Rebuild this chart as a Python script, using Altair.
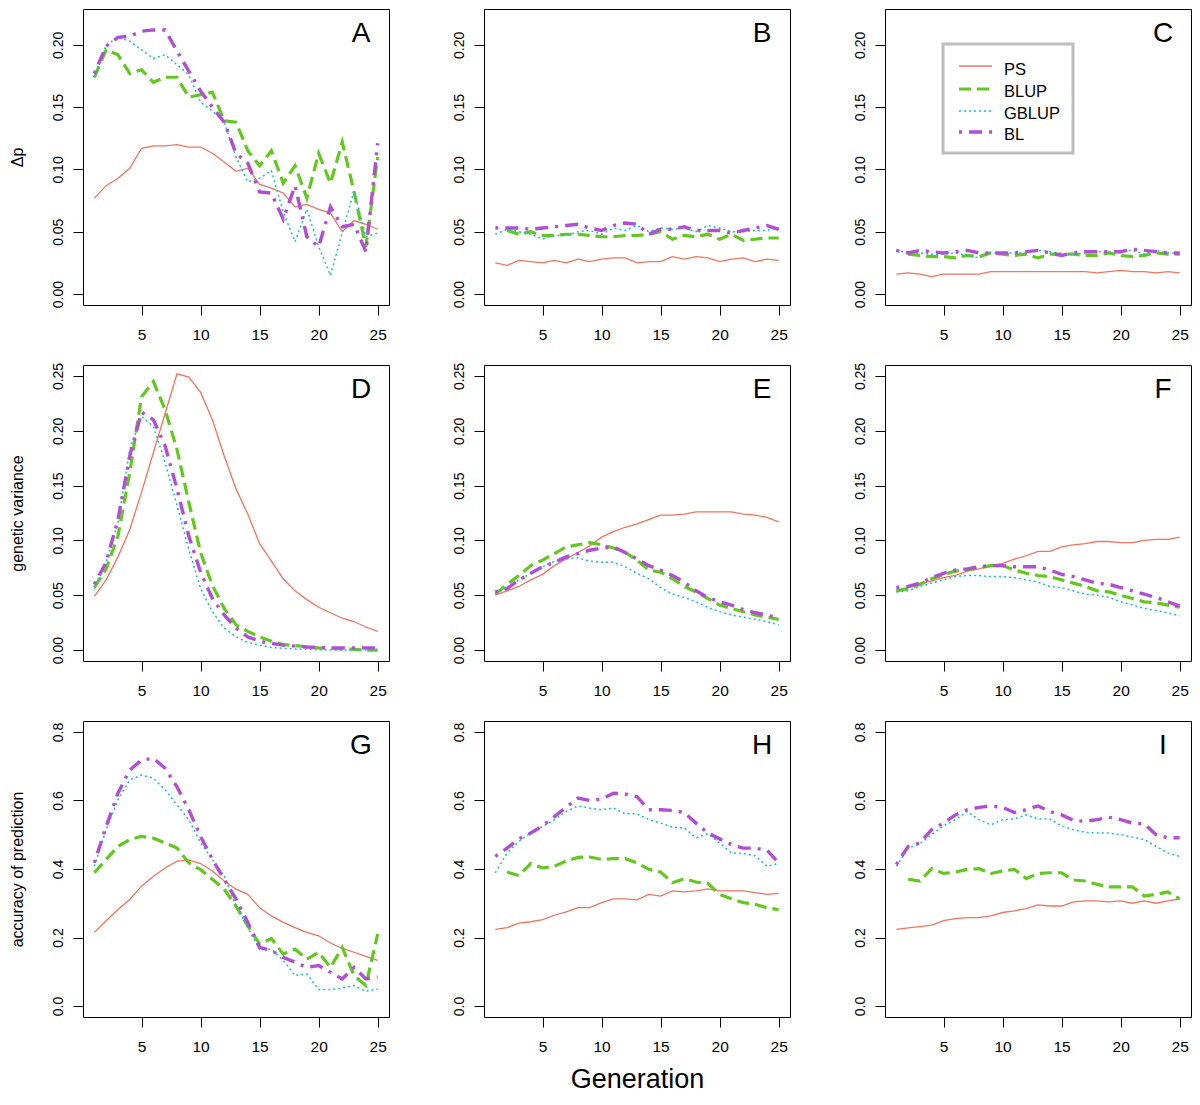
import altair as alt
import pandas as pd

GEN = list(range(1, 26))
SERIES = ["PS", "BLUP", "GBLUP", "BL"]
COLORS = ["#F37461", "#63C81D", "#1BBECC", "#B04FD6"]
DASHES = [None, [12, 6], [2, 3], [3, 7, 13, 7]]
WIDTHS = [1.3, 3.2, 1.5, 3.4]

Y_TITLES = ["Δp", "genetic variance", "accuracy of prediction"]
X_TITLE = "Generation"
X_TICKS = [5, 10, 15, 20, 25]
Y_TICKS = [[0.0, 0.05, 0.10, 0.15, 0.20],
           [0.0, 0.05, 0.10, 0.15, 0.20, 0.25],
           [0.0, 0.2, 0.4, 0.6, 0.8]]
Y_FMT = [".2f", ".2f", ".1f"]
Y_DOMAINS = [[-0.0088, 0.2288], [-0.01, 0.26], [-0.032, 0.832]]
X_DOMAIN = [0.04, 25.96]
LETTERS = ["A", "B", "C", "D", "E", "F", "G", "H", "I"]

# ---- Panel A (delta p)
A_PS = [0.077, 0.087, 0.093, 0.101, 0.117, 0.119, 0.119, 0.120, 0.118, 0.118, 0.113, 0.106, 0.0985,
        0.101, 0.088, 0.085, 0.081, 0.070, 0.072, 0.068, 0.065, 0.050, 0.059, 0.056, 0.052]
A_BLUP = [0.174, 0.196, 0.192, 0.177, 0.180, 0.170, 0.174, 0.174, 0.158, 0.160, 0.162, 0.139, 0.138,
          0.115, 0.103, 0.115, 0.089, 0.103, 0.077, 0.113, 0.089, 0.122, 0.082, 0.038, 0.110]
A_GBLUP = [0.174, 0.200, 0.206, 0.203, 0.196, 0.189, 0.192, 0.184, 0.176, 0.154, 0.147, 0.138, 0.110,
           0.090, 0.093, 0.099, 0.066, 0.042, 0.068, 0.038, 0.015, 0.049, 0.083, 0.046, 0.049]
A_BL = [0.177, 0.199, 0.206, 0.207, 0.211, 0.212, 0.212, 0.195, 0.179, 0.163, 0.150, 0.138, 0.113,
        0.105, 0.082, 0.081, 0.060, 0.087, 0.046, 0.038, 0.070, 0.054, 0.056, 0.034, 0.121]

# ---- Panel B
B_PS = [0.025, 0.023, 0.027, 0.026, 0.025, 0.027, 0.025, 0.028, 0.026, 0.028, 0.029, 0.029, 0.025,
        0.026, 0.026, 0.030, 0.028, 0.030, 0.029, 0.026, 0.028, 0.029, 0.026, 0.028, 0.027]
B_BLUP = [None, 0.051, 0.048, 0.050, 0.047, 0.047, 0.048, 0.048, 0.047, 0.046, 0.046, 0.047, 0.047,
          0.048, 0.050, 0.044, 0.047, 0.046, 0.048, 0.044, 0.048, 0.043, 0.044, 0.045, 0.045]
B_GBLUP = [0.048, 0.052, 0.050, 0.048, 0.044, 0.047, 0.047, 0.050, 0.051, 0.048, 0.053, 0.051, 0.055,
           0.050, 0.053, 0.052, 0.053, 0.050, 0.055, 0.053, 0.050, 0.050, 0.051, 0.051, 0.053]
B_BL = [0.053, 0.053, 0.053, 0.052, 0.053, 0.054, 0.055, 0.056, 0.053, 0.051, 0.055, 0.057, 0.056,
        0.048, 0.052, 0.052, 0.054, 0.051, 0.051, 0.051, 0.049, 0.051, 0.053, 0.055, 0.052]

# ---- Panel C
C_PS = [0.016, 0.017, 0.016, 0.014, 0.016, 0.016, 0.016, 0.016, 0.018, 0.018, 0.018, 0.018, 0.018,
        0.018, 0.018, 0.018, 0.018, 0.017, 0.018, 0.019, 0.018, 0.018, 0.017, 0.018, 0.017]
C_BLUP = [None, 0.032, 0.031, 0.030, 0.030, 0.029, 0.031, 0.030, 0.033, 0.032, 0.031, 0.032, 0.029,
          0.032, 0.032, 0.032, 0.031, 0.031, 0.033, 0.031, 0.030, 0.031, 0.033, 0.032, 0.032]
C_GBLUP = [0.035, 0.033, 0.033, 0.032, 0.032, 0.033, 0.031, 0.029, 0.033, 0.033, 0.033, 0.033, 0.035,
           0.034, 0.032, 0.032, 0.033, 0.034, 0.034, 0.035, 0.035, 0.032, 0.035, 0.033, 0.033]
C_BL = [0.035, 0.033, 0.035, 0.034, 0.033, 0.034, 0.035, 0.033, 0.033, 0.033, 0.033, 0.034, 0.035,
        0.033, 0.031, 0.033, 0.034, 0.034, 0.034, 0.034, 0.036, 0.035, 0.034, 0.033, 0.033]

# ---- Panel D (genetic variance)
D_PS = [0.049, 0.064, 0.085, 0.110, 0.144, 0.180, 0.216, 0.252, 0.249, 0.235, 0.210, 0.177, 0.147,
        0.124, 0.097, 0.081, 0.065, 0.054, 0.046, 0.039, 0.034, 0.029, 0.026, 0.021, 0.017]
D_BLUP = [0.057, 0.074, 0.104, 0.162, 0.231, 0.245, 0.219, 0.183, 0.135, 0.089, 0.059, 0.038, 0.023,
          0.017, 0.012, 0.008, 0.005, 0.004, 0.003, 0.002, 0.0015, 0.001, 0.0006, 0.0, 0.0]
D_GBLUP = [0.056, 0.080, 0.116, 0.183, 0.213, 0.204, 0.171, 0.132, 0.092, 0.056, 0.035, 0.020, 0.012,
           0.007, 0.0045, 0.0024, 0.0015, 0.001, 0.0006, 0.0003, 0.0, 0.0, 0.0, 0.0, 0.0]
D_BL = [0.060, 0.080, 0.119, 0.177, 0.217, 0.210, 0.186, 0.147, 0.104, 0.071, 0.047, 0.032, 0.020,
        0.012, 0.008, 0.006, 0.0045, 0.0036, 0.0027, 0.0024, 0.002, 0.002, 0.002, 0.002, 0.002]

# ---- Panel E
E_PS = [0.050, 0.054, 0.058, 0.064, 0.069, 0.077, 0.083, 0.089, 0.095, 0.103, 0.108, 0.112, 0.115,
        0.119, 0.123, 0.123, 0.124, 0.126, 0.126, 0.126, 0.126, 0.124, 0.123, 0.121, 0.117]
E_BLUP = [0.051, 0.060, 0.068, 0.077, 0.082, 0.088, 0.094, 0.096, 0.098, 0.096, 0.093, 0.089, 0.082,
          0.073, 0.071, 0.065, 0.058, 0.053, 0.047, 0.041, 0.038, 0.035, 0.032, 0.030, 0.028]
E_GBLUP = [0.051, 0.057, 0.064, 0.070, 0.076, 0.081, 0.083, 0.084, 0.081, 0.080, 0.080, 0.076, 0.070,
           0.065, 0.057, 0.051, 0.048, 0.044, 0.039, 0.035, 0.032, 0.030, 0.028, 0.026, 0.023]
E_BL = [0.053, 0.056, 0.064, 0.070, 0.076, 0.080, 0.085, 0.088, 0.091, 0.093, 0.094, 0.089, 0.083,
        0.077, 0.073, 0.068, 0.062, 0.054, 0.048, 0.044, 0.041, 0.037, 0.034, 0.032, 0.029]

# ---- Panel F
F_PS = [0.054, 0.057, 0.060, 0.063, 0.066, 0.068, 0.072, 0.074, 0.077, 0.079, 0.083, 0.086, 0.090,
        0.090, 0.094, 0.096, 0.097, 0.099, 0.099, 0.098, 0.098, 0.100, 0.101, 0.101, 0.103]
F_BLUP = [0.054, 0.056, 0.060, 0.065, 0.069, 0.072, 0.073, 0.075, 0.077, 0.077, 0.073, 0.070, 0.068,
          0.067, 0.064, 0.061, 0.058, 0.054, 0.053, 0.050, 0.047, 0.044, 0.043, 0.041, 0.039]
F_GBLUP = [0.053, 0.054, 0.058, 0.061, 0.064, 0.067, 0.068, 0.068, 0.067, 0.067, 0.066, 0.064, 0.062,
           0.058, 0.057, 0.054, 0.051, 0.050, 0.048, 0.044, 0.041, 0.038, 0.036, 0.034, 0.031]
F_BL = [0.057, 0.058, 0.061, 0.066, 0.070, 0.073, 0.074, 0.076, 0.077, 0.077, 0.076, 0.076, 0.076,
        0.073, 0.069, 0.067, 0.064, 0.061, 0.060, 0.057, 0.054, 0.051, 0.048, 0.044, 0.040]

# ---- Panel G (accuracy of prediction)
G_PS = [0.215, 0.249, 0.282, 0.311, 0.350, 0.379, 0.403, 0.423, 0.426, 0.416, 0.394, 0.365, 0.341,
        0.326, 0.287, 0.263, 0.244, 0.229, 0.215, 0.205, 0.184, 0.168, 0.157, 0.145, 0.133]
G_BLUP = [0.389, 0.428, 0.466, 0.486, 0.495, 0.490, 0.476, 0.461, 0.418, 0.398, 0.370, 0.341, 0.292,
          0.234, 0.181, 0.197, 0.152, 0.166, 0.137, 0.157, 0.113, 0.171, 0.089, 0.060, 0.210]
G_GBLUP = [0.408, 0.515, 0.602, 0.660, 0.674, 0.665, 0.631, 0.587, 0.544, 0.476, 0.428, 0.379, 0.292,
           0.229, 0.166, 0.166, 0.133, 0.089, 0.094, 0.048, 0.048, 0.052, 0.060, 0.043, 0.050]
G_BL = [0.418, 0.524, 0.621, 0.689, 0.718, 0.723, 0.694, 0.640, 0.573, 0.495, 0.428, 0.370, 0.312,
        0.244, 0.171, 0.162, 0.142, 0.128, 0.113, 0.118, 0.099, 0.079, 0.113, 0.079, 0.085]

# ---- Panel H
H_PS = [0.224, 0.229, 0.242, 0.246, 0.252, 0.265, 0.275, 0.287, 0.287, 0.302, 0.313, 0.313, 0.310,
        0.326, 0.321, 0.336, 0.333, 0.336, 0.342, 0.336, 0.336, 0.336, 0.331, 0.326, 0.329]
H_BLUP = [None, 0.391, 0.381, 0.416, 0.403, 0.408, 0.423, 0.434, 0.435, 0.428, 0.430, 0.430, 0.418,
          0.399, 0.391, 0.360, 0.372, 0.362, 0.358, 0.326, 0.313, 0.302, 0.297, 0.287, 0.281]
H_GBLUP = [0.389, 0.447, 0.481, 0.505, 0.524, 0.544, 0.568, 0.584, 0.578, 0.573, 0.578, 0.561, 0.561,
           0.544, 0.534, 0.522, 0.520, 0.491, 0.503, 0.476, 0.447, 0.445, 0.439, 0.408, 0.416]
H_BL = [0.437, 0.461, 0.488, 0.505, 0.526, 0.553, 0.580, 0.607, 0.600, 0.604, 0.621, 0.619, 0.611,
        0.573, 0.573, 0.571, 0.565, 0.534, 0.505, 0.488, 0.471, 0.461, 0.461, 0.455, 0.418]

# ---- Panel I
I_PS = [0.224, 0.228, 0.232, 0.236, 0.249, 0.255, 0.258, 0.258, 0.263, 0.273, 0.278, 0.284, 0.295,
        0.292, 0.292, 0.304, 0.307, 0.307, 0.304, 0.307, 0.300, 0.307, 0.300, 0.307, 0.313]
I_BLUP = [None, 0.370, 0.365, 0.401, 0.387, 0.391, 0.399, 0.401, 0.387, 0.394, 0.399, 0.372, 0.387,
          0.389, 0.389, 0.368, 0.365, 0.355, 0.348, 0.348, 0.348, 0.321, 0.326, 0.333, 0.313]
I_GBLUP = [0.408, 0.461, 0.474, 0.500, 0.526, 0.544, 0.568, 0.544, 0.529, 0.544, 0.546, 0.558, 0.546,
           0.546, 0.526, 0.515, 0.507, 0.505, 0.505, 0.500, 0.493, 0.486, 0.466, 0.447, 0.437]
I_BL = [0.413, 0.466, 0.476, 0.515, 0.534, 0.558, 0.573, 0.580, 0.584, 0.580, 0.565, 0.573, 0.584,
        0.568, 0.558, 0.542, 0.539, 0.544, 0.551, 0.544, 0.534, 0.532, 0.500, 0.491, 0.491]

PANEL_DATA = [
    [A_PS, A_BLUP, A_GBLUP, A_BL], [B_PS, B_BLUP, B_GBLUP, B_BL], [C_PS, C_BLUP, C_GBLUP, C_BL],
    [D_PS, D_BLUP, D_GBLUP, D_BL], [E_PS, E_BLUP, E_GBLUP, E_BL], [F_PS, F_BLUP, F_GBLUP, F_BL],
    [G_PS, G_BLUP, G_GBLUP, G_BL], [H_PS, H_BLUP, H_GBLUP, H_BL], [I_PS, I_BLUP, I_GBLUP, I_BL],
]

W, H = 306, 296
FONT = "Liberation Sans"


def make_panel(idx):
    row, col = divmod(idx, 3)
    recs = []
    for s, vals in zip(SERIES, PANEL_DATA[idx]):
        for g, v in zip(GEN, vals):
            if v is not None:
                recs.append({"gen": g, "value": v, "series": s})
    df = pd.DataFrame(recs)

    xscale = alt.Scale(domain=X_DOMAIN, nice=False, zero=False)
    yscale = alt.Scale(domain=Y_DOMAINS[row], nice=False, zero=False)
    if row == 2 and col == 1:
        xaxis = alt.Axis(values=X_TICKS, title=X_TITLE, titleFontSize=27, titlePadding=12,
                         titleFont=FONT, titleFontWeight="normal", titleColor="black")
    else:
        xaxis = alt.Axis(values=X_TICKS, title=None)
    if col == 0:
        yaxis = alt.Axis(values=Y_TICKS[row], format=Y_FMT[row], title=Y_TITLES[row])
    else:
        yaxis = alt.Axis(values=Y_TICKS[row], format=Y_FMT[row], title=None)

    layers = []
    for i, s in enumerate(SERIES):
        kw = dict(color=COLORS[i], strokeWidth=WIDTHS[i], clip=True)
        if DASHES[i] is not None:
            kw["strokeDash"] = DASHES[i]
        layers.append(
            alt.Chart(df).transform_filter(alt.datum.series == s).mark_line(**kw).encode(
                x=alt.X("gen:Q", scale=xscale, axis=xaxis),
                y=alt.Y("value:Q", scale=yscale, axis=yaxis),
            )
        )

    letter = alt.Chart(pd.DataFrame({"label": [LETTERS[idx]]})).mark_text(
        fontSize=28, font=FONT, color="black", align="center", baseline="middle"
    ).encode(text="label:N", x=alt.value(W - 28), y=alt.value(25))
    layers.append(letter)

    if LETTERS[idx] == "C":
        box = alt.Chart(pd.DataFrame({"k": [0]})).mark_rect(
            fillOpacity=0, stroke="#BDBDBD", strokeWidth=3
        ).encode(x=alt.value(58), x2=alt.value(188), y=alt.value(35), y2=alt.value(144))
        layers.append(box)
        line_y = [57, 80, 102, 123]
        text_y = [61, 83, 105, 126]
        for i, s in enumerate(SERIES):
            kw = dict(color=COLORS[i], strokeWidth=WIDTHS[i])
            if DASHES[i] is not None:
                kw["strokeDash"] = DASHES[i]
            layers.append(
                alt.Chart(pd.DataFrame({"name": [s]})).mark_rule(**kw).encode(
                    x=alt.value(74), x2=alt.value(107), y=alt.value(line_y[i])
                )
            )
            layers.append(
                alt.Chart(pd.DataFrame({"name": [s]})).mark_text(
                    fontSize=16.5, font=FONT, color="black", align="left", baseline="middle"
                ).encode(text="name:N", x=alt.value(119), y=alt.value(text_y[i]))
            )

    return alt.layer(*layers).properties(width=W, height=H)


panels = [make_panel(i) for i in range(9)]

chart = alt.concat(
    *panels, columns=3, spacing={"row": 60, "column": 95}, bounds="flush"
).properties(
    padding={"left": 0, "top": 0, "right": 0, "bottom": 0}
).configure_view(
    stroke="black", strokeWidth=1
).configure_axis(
    domain=False, grid=False, ticks=True, tickColor="black", tickSize=10, tickWidth=1,
    labelFont=FONT, labelFontSize=14, labelColor="black",
    titleFont=FONT, titleFontSize=16, titleFontWeight="normal", titleColor="black",
).configure_axisX(
    labelPadding=12, labelFontSize=15.5
).configure_axisY(
    labelAngle=270, labelAlign="center", labelBaseline="bottom", labelPadding=8,
    minExtent=50, titlePadding=8,
)

chart.save("out.html", embed_options={"renderer": "svg", "actions": False})
